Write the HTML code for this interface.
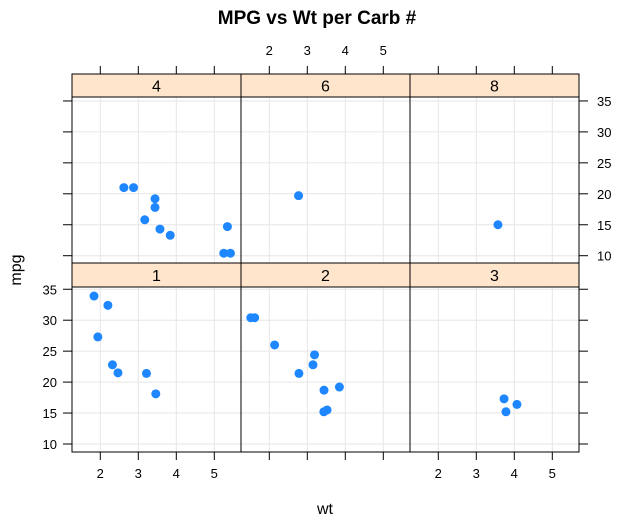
<!DOCTYPE html>
<html><head><meta charset="utf-8"><style>
body{margin:0;background:#fff;}
svg{display:block;font-family:"Liberation Sans",sans-serif;}
</style></head><body>
<svg id="chart" width="634" height="522" viewBox="0 0 634 522">
<text x="317" y="24" text-anchor="middle" font-size="19" font-weight="bold">MPG vs Wt per Carb #</text>
<text x="0" y="0" transform="translate(21,270) rotate(-90)" text-anchor="middle" font-size="16">mpg</text>
<text x="325" y="514" text-anchor="middle" font-size="16">wt</text>
</svg>
<script>
const panels = ["1","2","3","4","6","8"];
const wt1 = [2.32,3.215,3.46,2.2,1.835,2.465,1.935];
const mpg1 = [22.8,21.4,18.1,32.4,33.9,21.5,27.3];
const wt2 = [3.44,3.19,3.15,1.615,3.52,3.435,3.845,2.14,1.513,2.78];
const mpg2 = [18.7,24.4,22.8,30.4,15.5,15.2,19.2,26.0,30.4,21.4];
const wt3 = [4.07,3.73,3.78];
const mpg3 = [16.4,17.3,15.2];
const wt4 = [2.62,2.875,3.57,3.44,3.44,5.25,5.424,5.345,3.84,3.17];
const mpg4 = [21,21,14.3,19.2,17.8,10.4,10.4,14.7,13.3,15.8];
const wt6 = [2.77];
const mpg6 = [19.7];
const wt8 = [3.57];
const mpg8 = [15.0];
const xTicks = [2,3,4,5];
const yTicks = [10,15,20,25,30,35];

const svg = document.getElementById('chart');
const NS = 'http://www.w3.org/2000/svg';
function mk(tag, attrs, parent){const e=document.createElementNS(NS,tag);for(const k in attrs)e.setAttribute(k,attrs[k]);(parent||svg).appendChild(e);return e;}
const colX=[72,241,410], colW=169;
const rows=[{top:263,strip:24,bottom:452},{top:74,strip:23,bottom:263}];
function xs(c,w){return colX[c]+28.3+(w-2)*38;}
function ys(r,v){return (r===0?444:255.7)-(v-10)*6.19;}
const wts=[wt1,wt2,wt3,wt4,wt6,wt8], mpgs=[mpg1,mpg2,mpg3,mpg4,mpg6,mpg8];
panels.forEach((p,i)=>{
  const r=Math.floor(i/3), c=i%3, R=rows[r];
  const g=mk('g',{});
  
  
  const pt=R.top+R.strip;
  xTicks.forEach(t=>{const l=mk('line',{x1:xs(c,t),x2:xs(c,t),y1:pt,y2:R.bottom,stroke:'#e6e6e6','stroke-width':1},g);
    });
  yTicks.forEach(t=>{const l=mk('line',{x1:colX[c],x2:colX[c]+colW,y1:ys(r,t),y2:ys(r,t),stroke:'#e6e6e6','stroke-width':1},g);
    });
  const s=mk('rect',{x:colX[c],y:R.top,width:colW,height:R.strip,fill:'#ffe5cc',stroke:'#000','stroke-width':1},g);
  
  const st=mk('text',{x:colX[c]+colW/2,y:R.top+R.strip/2+6,'text-anchor':'middle','font-size':16},g);st.textContent=p;
  
  wts[i].forEach((w,j)=>{const d=mk('circle',{cx:xs(c,w),cy:ys(r,mpgs[i][j]),r:4.5,fill:'#1e87ff'},g);
    });
  const b=mk('rect',{x:colX[c],y:R.top,width:colW,height:R.bottom-R.top,fill:'none',stroke:'#000','stroke-width':1},g);
  
  // x ticks
  if(r===0){xTicks.forEach(t=>{mk('line',{x1:xs(c,t),x2:xs(c,t),y1:452,y2:460,stroke:'#000'});
    if(c!==1){const tx=mk('text',{x:xs(c,t),y:478,'text-anchor':'middle','font-size':13});tx.textContent=t;
      }});}
  else{xTicks.forEach(t=>{mk('line',{x1:xs(c,t),x2:xs(c,t),y1:66,y2:74,stroke:'#000'});
    if(c===1){const tx=mk('text',{x:xs(c,t),y:55,'text-anchor':'middle','font-size':13});tx.textContent=t;
      }});}
  if(c===0){yTicks.forEach(t=>{mk('line',{x1:63,x2:72,y1:ys(r,t),y2:ys(r,t),stroke:'#000'});
    if(r===0){const tx=mk('text',{x:57,y:ys(r,t)+5,'text-anchor':'end','font-size':13});tx.textContent=t;
      }});}
  if(c===2){yTicks.forEach(t=>{mk('line',{x1:579,x2:588,y1:ys(r,t),y2:ys(r,t),stroke:'#000'});
    if(r===1){const tx=mk('text',{x:597,y:ys(r,t)+5,'text-anchor':'start','font-size':13});tx.textContent=t;
      }});}
});
</script>
</body></html>
